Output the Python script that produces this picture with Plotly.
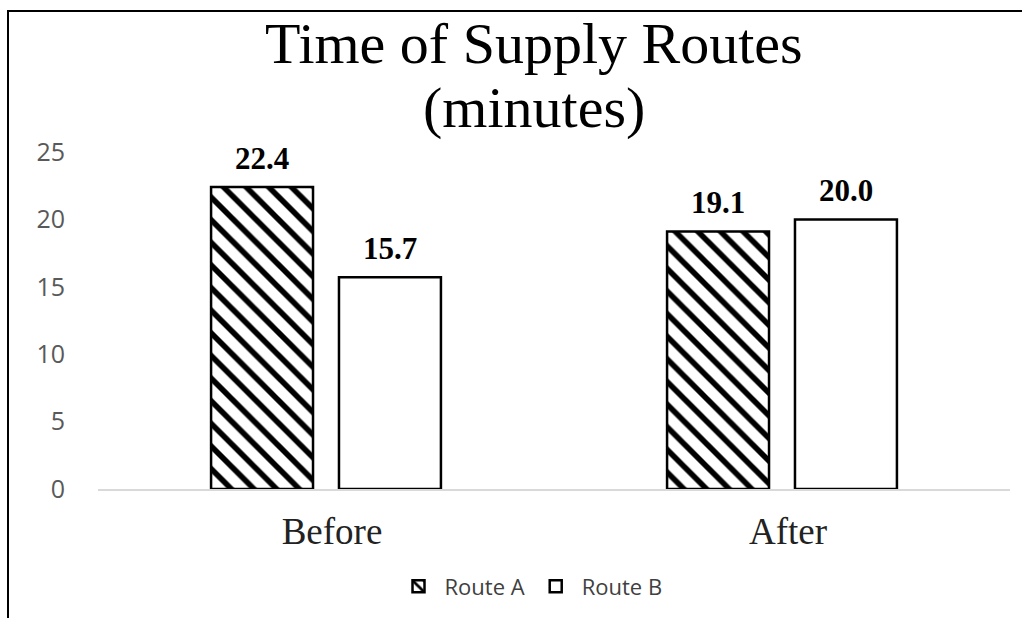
import plotly.graph_objects as go

categories = ["Before", "After"]
route_a = [22.4, 19.1]
route_b = [15.7, 20.0]
series_names = ["Route A", "Route B"]
y_ticks = [0, 5, 10, 15, 20, 25]
title_lines = ["Time of Supply Routes", "(minutes)"]

W, H = 1022, 619
L, R, T, B = 98, 12, 152, 125
pw, ph = W - L - R, H - T - B

def px_x(x):
    return (x - L) / pw

def px_y(y):
    return (H - B - y) / ph

bar_line = dict(color="black", width=2.5)
fig = go.Figure()
fig.add_trace(go.Bar(
    name=series_names[0], x=categories, y=route_a,
    marker=dict(color="white", line=bar_line,
                pattern=dict(shape="\\", fgcolor="black", bgcolor="white", fgopacity=1,
                             size=16, solidity=0.35)),
))
fig.add_trace(go.Bar(
    name=series_names[1], x=categories, y=route_b,
    marker=dict(color="white", line=bar_line),
))

annotations = []
for vals, shift in ((route_a, -64), (route_b, 64)):
    for cat, v in zip(categories, vals):
        annotations.append(dict(
            x=cat, y=v, xref="x", yref="y", text=f"<b>{v:.1f}</b>", showarrow=False,
            xshift=shift, yshift=29, yanchor="middle", xanchor="center",
            font=dict(family="Liberation Serif", size=31, color="black"),
        ))
for line, cy in zip(title_lines, (42, 107)):
    annotations.append(dict(
        x=px_x(534), y=px_y(cy), xref="paper", yref="paper", text=line, showarrow=False,
        xanchor="center", yanchor="middle",
        font=dict(family="Liberation Serif", size=58, color="black"),
    ))

fig.update_layout(
    width=W, height=H,
    margin=dict(l=L, r=R, t=T, b=B),
    paper_bgcolor="white", plot_bgcolor="white",
    barmode="group", bargap=0.439, bargroupgap=0.203,
    showlegend=True,
    legend=dict(orientation="h", x=px_x(530), xanchor="center", y=px_y(593), yanchor="middle",
                font=dict(family="Open Sans", size=22, color="#404040"), traceorder="normal",
                itemwidth=42),
    annotations=annotations,
    shapes=[
        dict(type="line", xref="paper", yref="paper", x0=px_x(8), x1=px_x(8), y0=px_y(8), y1=px_y(625),
             line=dict(color="black", width=2)),
        dict(type="line", xref="paper", yref="paper", x0=px_x(8), x1=px_x(1025), y0=px_y(9), y1=px_y(9),
             line=dict(color="black", width=2)),
    ],
)
fig.update_xaxes(showgrid=False, showline=True, linecolor="#d9d9d9", linewidth=2, ticks="",
                 tickfont=dict(family="Liberation Serif", size=37, color="#222222"),
                 ticklabelstandoff=9, ticklabelshift=6)
fig.update_yaxes(range=[0, 25], tickvals=y_ticks, showgrid=False, zeroline=False, showline=False,
                 tickfont=dict(family="Open Sans", size=25, color="#595959"), ticklabelstandoff=32)

fig.write_html("out.html", config={"displayModeBar": False},
               post_script="document.body.style.margin='0px';")
